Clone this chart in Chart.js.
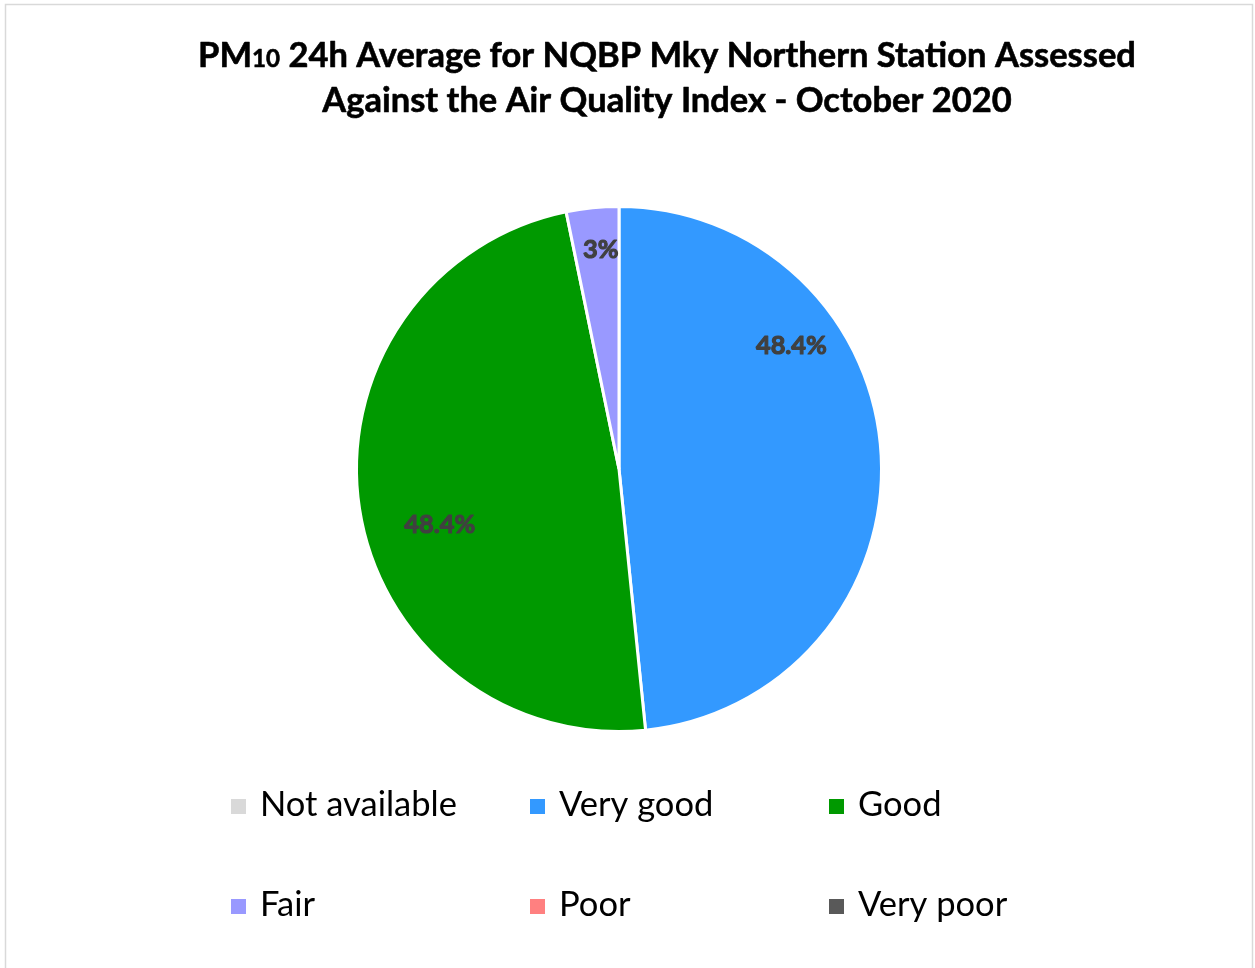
<!DOCTYPE html>
<html>
<head>
<meta charset="utf-8">
<script src="https://cdn.jsdelivr.net/npm/chart.js@4.4.1/dist/chart.umd.min.js"></script>
<style>
  html, body { margin: 0; padding: 0; background: #ffffff; }
  #wrap { width: 1255px; height: 968px; position: relative; }
</style>
</head>
<body>
<div id="wrap"><canvas id="c" width="1255" height="968"></canvas></div>
<script>
// ---- data ----
const categories = ['Not available', 'Very good', 'Good', 'Fair', 'Poor', 'Very poor'];
const dayCounts = [0, 15, 15, 1, 0, 0];
const sliceLabels = ['', '48.4%', '48.4%', '3%', '', ''];
const sliceColors = ['#d9d9d9', '#3399ff', '#009900', '#9999ff', '#ff8080', '#595959'];
const titleLines = [['PM', '10', ' 24h Average for NQBP Mky Northern Station Assessed'], ['Against the Air Quality Index - October 2020']];

// ---- styling / placement (not data) ----
const FONT = 'Lato, "Open Sans", "Liberation Sans", sans-serif';
const labelPlacement = [null, {f: 0.311, r: 0.81}, {f: 0.452, r: 0.714}, {f: 0.59, r: 0.84}, null, null];

function fitFont(ctx, weight, text, targetWidth) {
  ctx.font = weight + ' 100px ' + FONT;
  const w = ctx.measureText(text).width;
  return 100 * targetWidth / w;
}

function heavyText(ctx, text, x, y, lw) {
  ctx.lineWidth = lw;
  ctx.lineJoin = 'round';
  ctx.strokeStyle = ctx.fillStyle;
  ctx.strokeText(text, x, y);
  ctx.fillText(text, x, y);
}

const decorPlugin = {
  id: 'decor',
  afterDraw(chart) {
    const ctx = chart.ctx;
    ctx.save();
    // outer frame
    ctx.strokeStyle = '#d9d9d9';
    ctx.lineWidth = 1.5;
    ctx.strokeRect(5.5, 4.5, 1247, 1000);

    // title
    const TW = 'bold';
    const TS = 0.6;
    ctx.fillStyle = '#000000';
    ctx.textBaseline = 'alphabetic';
    const l1 = titleLines[0];
    const size = fitFont(ctx, TW, l1[0] + l1[2], 932 - 22);
    const small = size * 0.7;
    ctx.font = TW + ' ' + size + 'px ' + FONT;
    const wA = ctx.measureText(l1[0]).width;
    const wC = ctx.measureText(l1[2]).width;
    ctx.font = TW + ' ' + small + 'px ' + FONT;
    const wB = ctx.measureText(l1[1]).width;
    const total1 = wA + wB + wC;
    let x = 667 - total1 / 2;
    ctx.textAlign = 'left';
    ctx.font = TW + ' ' + size + 'px ' + FONT;
    heavyText(ctx, l1[0], x, 67, TS); x += wA;
    ctx.font = TW + ' ' + small + 'px ' + FONT;
    heavyText(ctx, l1[1], x, 67, TS); x += wB;
    ctx.font = TW + ' ' + size + 'px ' + FONT;
    heavyText(ctx, l1[2], x, 67, TS);
    ctx.textAlign = 'center';
    heavyText(ctx, titleLines[1][0], 667, 112, TS);

    // data labels
    const meta = chart.getDatasetMeta(0);
    ctx.fillStyle = '#404040';
    ctx.font = 'bold ' + fitFont(ctx, 'bold', '48.4%', 71) + 'px ' + FONT;
    ctx.textAlign = 'center';
    ctx.textBaseline = 'middle';
    meta.data.forEach((arc, i) => {
      const p = labelPlacement[i];
      if (!p || !sliceLabels[i]) return;
      const a = arc.startAngle + (arc.endAngle - arc.startAngle) * p.f;
      const r = arc.outerRadius * p.r;
      heavyText(ctx, sliceLabels[i], arc.x + Math.cos(a) * r, arc.y + Math.sin(a) * r + 1, 1.1);
    });

    // legend
    const legSize = fitFont(ctx, 'normal', 'Not available', 197);
    ctx.font = legSize + 'px ' + FONT;
    ctx.textAlign = 'left';
    ctx.textBaseline = 'alphabetic';
    const colX = [231, 530, 829];
    const rowY = [816, 916];
    categories.forEach((name, i) => {
      const cx = colX[i % 3], cy = rowY[Math.floor(i / 3)];
      ctx.fillStyle = sliceColors[i];
      ctx.fillRect(cx, cy - 17, 15, 15);
      ctx.fillStyle = '#000000';
      ctx.fillText(name, cx + 29, cy);
    });
    ctx.restore();
  }
};

new Chart(document.getElementById('c'), {
  type: 'pie',
  data: {
    labels: categories,
    datasets: [{
      data: dayCounts,
      backgroundColor: sliceColors,
      borderColor: '#ffffff',
      borderWidth: 3
    }]
  },
  options: {
    responsive: false,
    animation: false,
    layout: { padding: { left: 340, right: 357, top: 205, bottom: 235 } },
    plugins: {
      legend: { display: false },
      title: { display: false },
      tooltip: { enabled: false }
    }
  },
  plugins: [decorPlugin]
});
</script>
</body>
</html>
